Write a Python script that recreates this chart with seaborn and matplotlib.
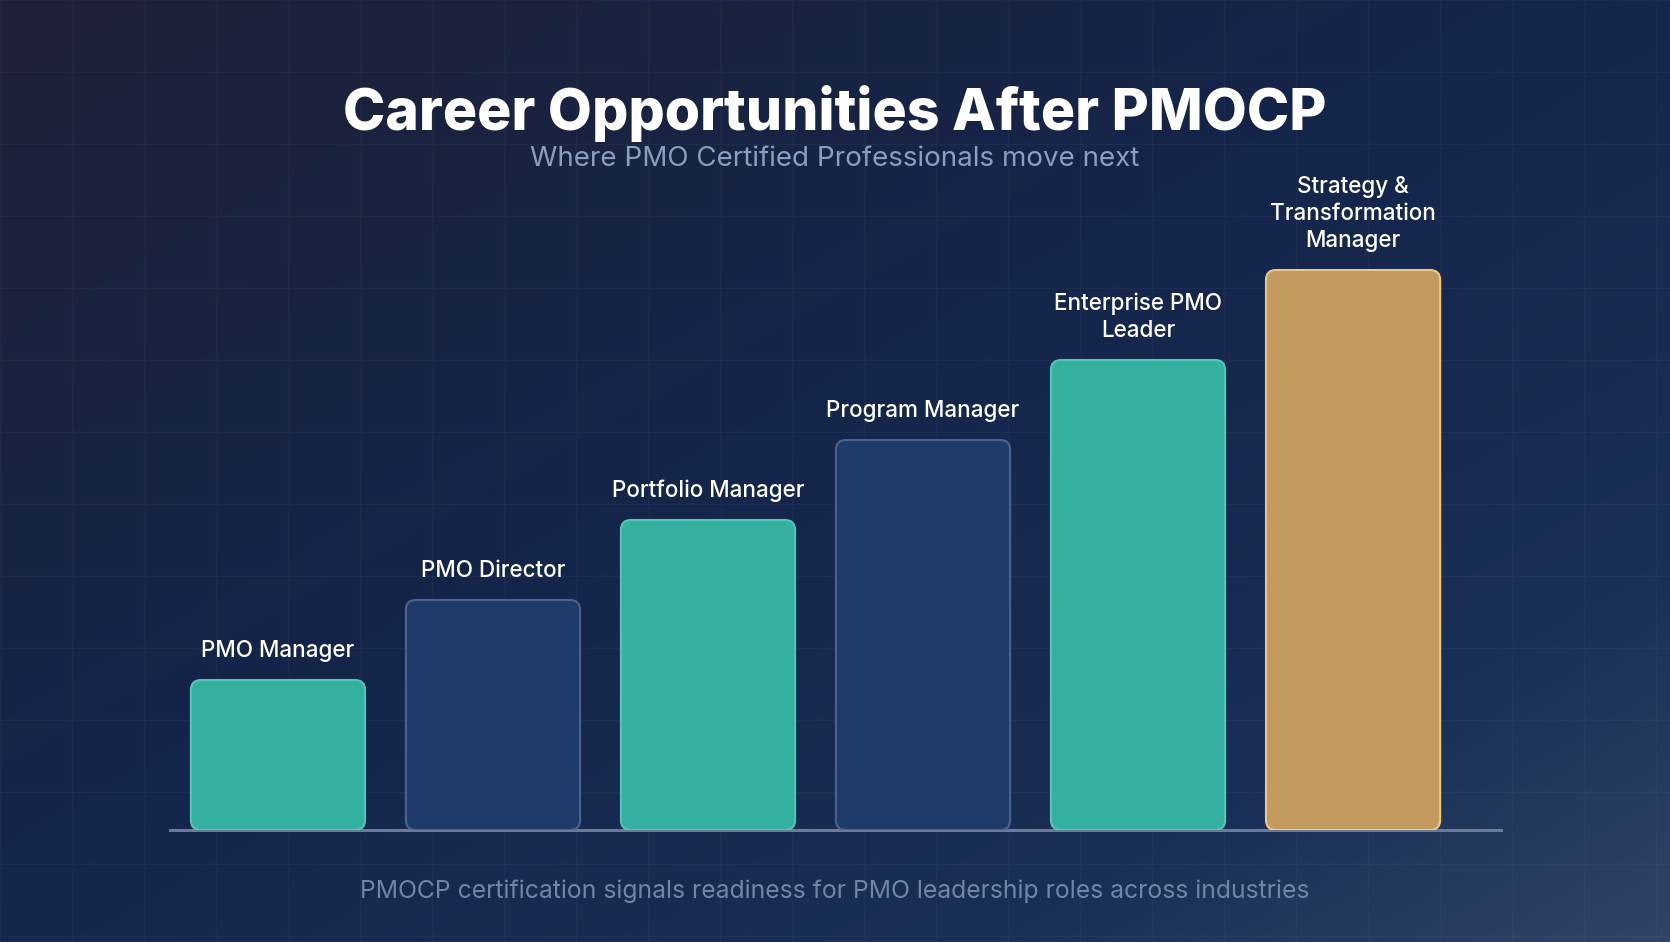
import numpy as np
import pandas as pd
import seaborn as sns
import matplotlib.pyplot as plt
from matplotlib.patches import FancyBboxPatch
from matplotlib.colors import LinearSegmentedColormap

# chart data
roles = ["PMO Manager", "PMO Director", "Portfolio Manager", "Program Manager",
         "Enterprise PMO\nLeader", "Strategy &\nTransformation\nManager"]
levels = [15, 23, 31, 39, 47, 56]
kinds = ["teal", "navy", "teal", "navy", "teal", "gold"]

title = "Career Opportunities After PMOCP"
subtitle = "Where PMO Certified Professionals move next"
footer = "PMOCP certification signals readiness for PMO leadership roles across industries"

FILL = {"teal": "#34b0a1", "navy": "#1e3b69", "gold": "#c39b5e"}
EDGE = {"teal": "#55c6b4", "navy": "#4a638e", "gold": "#ecc788"}

W, H = 1670, 942
sns.set_theme(style="white")
plt.rcParams["font.family"] = ["Inter", "DejaVu Sans"]

fig = plt.figure(figsize=(W / 100, H / 100), dpi=100)

# background gradient + faint grid
bg = fig.add_axes([0, 0, 1, 1], zorder=0)
yy, xx = np.mgrid[0:H, 0:W]
t = (xx / W + yy / H) / 2
cmap = LinearSegmentedColormap.from_list(
    "bg", [(0, "#1e2036"), (0.45, "#14254a"), (0.8, "#1a2f57"), (1, "#2f4466")])
bg.imshow(t, cmap=cmap, aspect="auto", extent=[0, W, H, 0], interpolation="bilinear")
for gx in range(0, W, 72):
    bg.axvline(gx, color="white", alpha=0.035, lw=1)
for gy in range(0, H, 72):
    bg.axhline(gy, color="white", alpha=0.035, lw=1)
bg.set_xlim(0, W)
bg.set_ylim(H, 0)
bg.axis("off")

# bar area: x 170..1501 px, y 830..230 px
x0, x1 = 170, 1501
ax = fig.add_axes([x0 / W, 1 - 830 / H, (x1 - x0) / W, 600 / H], zorder=1)
ax.set_facecolor("none")

df = pd.DataFrame({"role": roles, "level": levels, "kind": kinds})
sns.barplot(data=df, x="role", y="level", hue="kind", palette=FILL,
            width=0.81, dodge=False, legend=False, ax=ax)
ax.set_xlim(-0.502, 5.688)
ax.set_ylim(0, 60)

# aspect between data units for rounding
px_x = (x1 - x0) / (5.688 + 0.502)
px_y = 600 / 60
radius = 10 / px_x

patches = [p for p in ax.patches if p.get_height() > 0]
patches.sort(key=lambda p: p.get_x())
for p, kind in zip(patches, kinds):
    bx, by, bw, bh = p.get_x(), p.get_y(), p.get_width(), p.get_height()
    p.remove()
    ax.add_patch(FancyBboxPatch(
        (bx, by), bw, bh,
        boxstyle=f"round,pad=0,rounding_size={radius}",
        mutation_aspect=px_x / px_y,
        facecolor=FILL[kind], edgecolor=EDGE[kind], lw=1.5, zorder=2))

for i, (role, lv) in enumerate(zip(roles, levels)):
    ax.annotate(role, (i, lv), xytext=(0, 18), textcoords="offset pixels",
                ha="center", va="bottom", color="white", fontsize=16.2,
                fontweight="medium", linespacing=1.3, zorder=3)

sns.despine(ax=ax, left=True, top=True, right=True)
ax.spines["bottom"].set_color("#6b7a99")
ax.spines["bottom"].set_linewidth(2.2)
ax.spines["bottom"].set_zorder(1)
ax.set_xticks([])
ax.set_yticks([])
ax.set_xlabel("")
ax.set_ylabel("")

fig.text(0.5, 1 - 130 / H, title, ha="center", va="baseline", color="white",
         fontsize=41.1, fontweight="heavy")
fig.text(0.5, 1 - 166 / H, subtitle, ha="center", va="baseline", color="#8b9dc0",
         fontsize=20)
fig.text(0.5, 1 - 898 / H, footer, ha="center", va="baseline", color="#7284a7",
         fontsize=17.8)

fig.savefig("out.png", dpi=100)
